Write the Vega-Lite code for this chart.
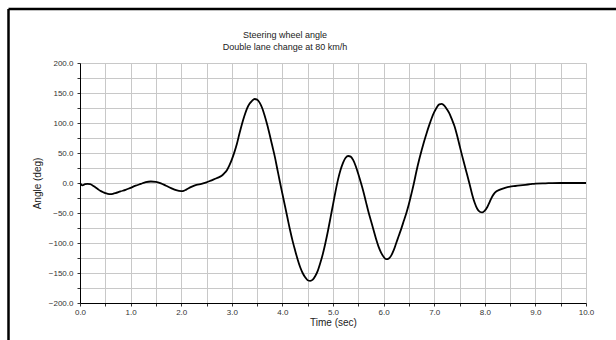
{
  "$schema": "https://vega.github.io/schema/vega-lite/v6.json",
  "width": 506,
  "height": 240,
  "autosize": "none",
  "padding": {"left": 80, "top": 63, "right": 30, "bottom": 37},
  "background": "white",
  "config": {"view": {"stroke": null}, "font": "Liberation Sans"},
  "title": {
    "text": ["Steering wheel angle", "Double lane change at 80 km/h"],
    "fontSize": 9,
    "fontWeight": "normal",
    "color": "#222222",
    "anchor": "middle",
    "frame": "group",
    "baseline": "top",
    "dx": -48,
    "offset": -44,
    "lineHeight": 12
  },
  "data": {"values": [
    {"t":0,"a":0},{"t":0.05,"a":-4},{"t":0.1,"a":-2},{"t":0.15,"a":-1.5},{"t":0.2,"a":-2},{"t":0.25,"a":-4},{"t":0.3,"a":-7},{"t":0.35,"a":-10},{"t":0.4,"a":-13},{"t":0.45,"a":-15},{"t":0.5,"a":-17},{"t":0.55,"a":-18},{"t":0.6,"a":-18.5},{"t":0.65,"a":-18},{"t":0.7,"a":-17},{"t":0.8,"a":-14},{"t":0.9,"a":-11.5},{"t":1.0,"a":-8},{"t":1.1,"a":-4.5},{"t":1.2,"a":-1.5},{"t":1.3,"a":1.5},{"t":1.4,"a":2.5},{"t":1.5,"a":2},{"t":1.6,"a":-0.5},{"t":1.7,"a":-4.5},{"t":1.8,"a":-8.5},{"t":1.9,"a":-12},{"t":2.0,"a":-13.5},{"t":2.05,"a":-13},{"t":2.1,"a":-11},{"t":2.2,"a":-6.5},{"t":2.3,"a":-3},{"t":2.4,"a":-1.5},{"t":2.5,"a":1},{"t":2.6,"a":4.5},{"t":2.7,"a":8},{"t":2.8,"a":12},{"t":2.85,"a":16},{"t":2.9,"a":21},{"t":2.95,"a":29},{"t":3.0,"a":39},{"t":3.05,"a":51},{"t":3.1,"a":65},{"t":3.15,"a":82},{"t":3.2,"a":98},{"t":3.25,"a":112},{"t":3.3,"a":124},{"t":3.35,"a":132},{"t":3.4,"a":137},{"t":3.45,"a":140},{"t":3.5,"a":139},{"t":3.55,"a":134},{"t":3.6,"a":125},{"t":3.65,"a":112},{"t":3.7,"a":97},{"t":3.75,"a":80},{"t":3.8,"a":62},{"t":3.85,"a":44},{"t":3.9,"a":23},{"t":3.95,"a":2},{"t":4.0,"a":-18},{"t":4.05,"a":-38},{"t":4.1,"a":-58},{"t":4.15,"a":-78},{"t":4.2,"a":-96},{"t":4.25,"a":-112},{"t":4.3,"a":-127},{"t":4.35,"a":-140},{"t":4.4,"a":-150},{"t":4.45,"a":-157},{"t":4.5,"a":-162},{"t":4.55,"a":-163},{"t":4.6,"a":-161},{"t":4.65,"a":-155},{"t":4.7,"a":-146},{"t":4.75,"a":-133},{"t":4.8,"a":-118},{"t":4.85,"a":-100},{"t":4.9,"a":-80},{"t":4.95,"a":-58},{"t":5.0,"a":-36},{"t":5.05,"a":-14},{"t":5.1,"a":6},{"t":5.15,"a":22},{"t":5.2,"a":34},{"t":5.25,"a":42},{"t":5.3,"a":45},{"t":5.35,"a":44},{"t":5.4,"a":38},{"t":5.45,"a":28},{"t":5.5,"a":15},{"t":5.55,"a":1},{"t":5.6,"a":-14},{"t":5.65,"a":-31},{"t":5.7,"a":-48},{"t":5.75,"a":-63},{"t":5.8,"a":-78},{"t":5.85,"a":-93},{"t":5.9,"a":-106},{"t":5.95,"a":-116},{"t":6.0,"a":-123},{"t":6.05,"a":-127},{"t":6.1,"a":-126},{"t":6.15,"a":-121},{"t":6.2,"a":-112},{"t":6.25,"a":-100},{"t":6.3,"a":-88},{"t":6.35,"a":-76},{"t":6.4,"a":-63},{"t":6.45,"a":-50},{"t":6.5,"a":-35},{"t":6.55,"a":-18},{"t":6.6,"a":0},{"t":6.65,"a":20},{"t":6.7,"a":38},{"t":6.75,"a":54},{"t":6.8,"a":69},{"t":6.85,"a":83},{"t":6.9,"a":96},{"t":6.95,"a":108},{"t":7.0,"a":118},{"t":7.05,"a":126},{"t":7.1,"a":131},{"t":7.15,"a":132},{"t":7.2,"a":129},{"t":7.25,"a":123},{"t":7.3,"a":116},{"t":7.35,"a":106},{"t":7.4,"a":95},{"t":7.45,"a":80},{"t":7.5,"a":63},{"t":7.55,"a":46},{"t":7.6,"a":30},{"t":7.65,"a":14},{"t":7.7,"a":-2},{"t":7.75,"a":-19},{"t":7.8,"a":-33},{"t":7.85,"a":-43},{"t":7.9,"a":-48},{"t":7.95,"a":-49},{"t":8.0,"a":-46},{"t":8.05,"a":-40},{"t":8.1,"a":-31},{"t":8.15,"a":-22},{"t":8.2,"a":-16},{"t":8.3,"a":-11},{"t":8.4,"a":-8},{"t":8.5,"a":-6},{"t":8.6,"a":-5},{"t":8.7,"a":-4},{"t":8.8,"a":-3},{"t":8.9,"a":-2},{"t":9.0,"a":-1},{"t":9.2,"a":-0.5},{"t":9.5,"a":0},{"t":10.0,"a":0}
  ]},
  "layer": [
    {
      "mark": {"type": "line", "color": "black", "strokeWidth": 1.8, "interpolate": "monotone"},
      "encoding": {
        "x": {
          "field": "t", "type": "quantitative", "title": "Time (sec)",
          "scale": {"domain": [0, 10], "nice": false, "zero": false},
          "axis": {
            "values": [0,0.5,1,1.5,2,2.5,3,3.5,4,4.5,5,5.5,6,6.5,7,7.5,8,8.5,9,9.5,10],
            "labelExpr": "datum.value % 1 === 0 ? format(datum.value, '.1f') : ''",
            "grid": true, "gridColor": "#c8c8c8", "gridWidth": 1,
            "domainColor": "black", "domainWidth": 1,
            "tickColor": "#333333", "tickSize": 3,
            "labelFontSize": 8, "labelColor": "#333333", "labelPadding": 2,
            "labelFlush": false, "labelOverlap": false,
            "titleFontSize": 10, "titleFontWeight": "normal", "titleColor": "#222222", "titlePadding": 1
          }
        },
        "y": {
          "field": "a", "type": "quantitative", "title": "Angle (deg)",
          "scale": {"domain": [-200, 200], "nice": false},
          "axis": {
            "values": [-200,-175,-150,-125,-100,-75,-50,-25,0,25,50,75,100,125,150,175,200],
            "labelExpr": "datum.value % 50 === 0 ? format(datum.value, '.1f') : ''",
            "grid": true, "gridColor": "#c8c8c8", "gridWidth": 1,
            "domainColor": "black", "domainWidth": 1,
            "tickColor": "#333333", "tickSize": 3,
            "labelFontSize": 8, "labelColor": "#333333", "labelPadding": 4,
            "labelFlush": false, "labelOverlap": false,
            "titleFontSize": 10, "titleFontWeight": "normal", "titleColor": "#222222", "titlePadding": 6
          }
        }
      }
    },
    {
      "data": {"values": [{}]},
      "mark": {"type": "rule", "color": "black", "strokeWidth": 2.5},
      "encoding": {
        "x": {
          "datum": -1.413, "type": "quantitative", "title": "Time (sec)",
          "axis": {
            "values": [0,0.5,1,1.5,2,2.5,3,3.5,4,4.5,5,5.5,6,6.5,7,7.5,8,8.5,9,9.5,10],
            "labelExpr": "datum.value % 1 === 0 ? format(datum.value, '.1f') : ''",
            "grid": true, "gridColor": "#c8c8c8", "gridWidth": 1,
            "domainColor": "black", "domainWidth": 1,
            "tickColor": "#333333", "tickSize": 3,
            "labelFontSize": 8, "labelColor": "#333333", "labelPadding": 2,
            "labelFlush": false, "labelOverlap": false,
            "titleFontSize": 10, "titleFontWeight": "normal", "titleColor": "#222222", "titlePadding": 1
          }
        },
        "y": {
          "datum": 290, "type": "quantitative", "title": "Angle (deg)",
          "axis": {
            "values": [-200,-175,-150,-125,-100,-75,-50,-25,0,25,50,75,100,125,150,175,200],
            "labelExpr": "datum.value % 50 === 0 ? format(datum.value, '.1f') : ''",
            "grid": true, "gridColor": "#c8c8c8", "gridWidth": 1,
            "domainColor": "black", "domainWidth": 1,
            "tickColor": "#333333", "tickSize": 3,
            "labelFontSize": 8, "labelColor": "#333333", "labelPadding": 4,
            "labelFlush": false, "labelOverlap": false,
            "titleFontSize": 10, "titleFontWeight": "normal", "titleColor": "#222222", "titlePadding": 6
          }
        },
        "y2": {"datum": -300}
      }
    },
    {
      "data": {"values": [{}]},
      "mark": {"type": "rule", "color": "black", "strokeWidth": 2.5},
      "encoding": {
        "x": {
          "datum": -1.413, "type": "quantitative", "title": "Time (sec)",
          "axis": {
            "values": [0,0.5,1,1.5,2,2.5,3,3.5,4,4.5,5,5.5,6,6.5,7,7.5,8,8.5,9,9.5,10],
            "labelExpr": "datum.value % 1 === 0 ? format(datum.value, '.1f') : ''",
            "grid": true, "gridColor": "#c8c8c8", "gridWidth": 1,
            "domainColor": "black", "domainWidth": 1,
            "tickColor": "#333333", "tickSize": 3,
            "labelFontSize": 8, "labelColor": "#333333", "labelPadding": 2,
            "labelFlush": false, "labelOverlap": false,
            "titleFontSize": 10, "titleFontWeight": "normal", "titleColor": "#222222", "titlePadding": 1
          }
        },
        "x2": {"datum": 11},
        "y": {
          "datum": 290, "type": "quantitative", "title": "Angle (deg)",
          "axis": {
            "values": [-200,-175,-150,-125,-100,-75,-50,-25,0,25,50,75,100,125,150,175,200],
            "labelExpr": "datum.value % 50 === 0 ? format(datum.value, '.1f') : ''",
            "grid": true, "gridColor": "#c8c8c8", "gridWidth": 1,
            "domainColor": "black", "domainWidth": 1,
            "tickColor": "#333333", "tickSize": 3,
            "labelFontSize": 8, "labelColor": "#333333", "labelPadding": 4,
            "labelFlush": false, "labelOverlap": false,
            "titleFontSize": 10, "titleFontWeight": "normal", "titleColor": "#222222", "titlePadding": 6
          }
        }
      }
    }
  ]
}
